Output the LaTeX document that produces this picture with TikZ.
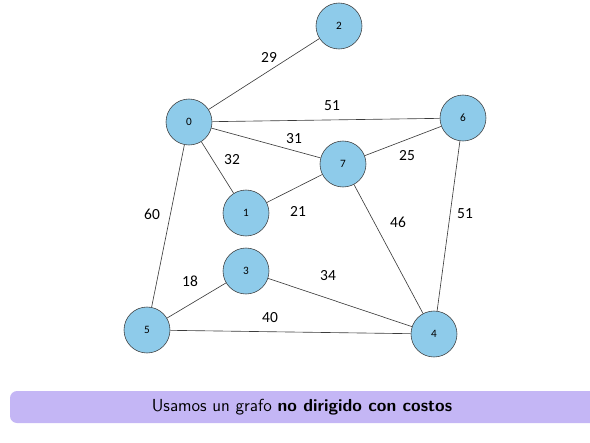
\documentclass[tikz,border=0pt]{standalone}
\usepackage{fontspec}
\newfontfamily\numfont{Carlito}
\usetikzlibrary{positioning}
\definecolor{nodeblue}{RGB}{142,203,234}
\definecolor{barlilac}{RGB}{196,182,245}
\definecolor{edgegray}{RGB}{60,60,60}

\begin{document}
\begin{tikzpicture}[
    x=0.025cm, y=-0.025cm,
    vert/.style={draw=edgegray, circle, fill=nodeblue, minimum size=1.15cm, inner sep=0pt, font=\numfont\fontsize{8}{9}\selectfont},
    wt/.style={font=\numfont\fontsize{11}{12}\selectfont, inner sep=1pt},
    link/.style={draw=edgegray, line width=0.45pt}
]
\useasboundingbox (0,0) rectangle (590,442);
% vertices
\node[vert] (n2) at (339,26) {2};
\node[vert] (n0) at (189,122) {0};
\node[vert] (n6) at (463,118) {6};
\node[vert] (n7) at (343,164) {7};
\node[vert] (n1) at (246,213) {1};
\node[vert] (n3) at (246,271) {3};
\node[vert] (n5) at (147,330) {5};
\node[vert] (n4) at (434,334) {4};
% weighted edges
\path[link] (n0) -- (n2) node[wt] at (269,57) {29};
\path[link] (n0) -- (n6) node[wt] at (332,106) {51};
\path[link] (n0) -- (n7) node[wt] at (294,139) {31};
\path[link] (n0) -- (n1) node[wt] at (232,160) {32};
\path[link] (n7) -- (n6) node[wt] at (407,156) {25};
\path[link] (n1) -- (n7) node[wt] at (298,211) {21};
\path[link] (n7) -- (n4) node[wt] at (398,222) {46};
\path[link] (n6) -- (n4) node[wt] at (465,214) {51};
\path[link] (n0) -- (n5) node[wt] at (152,214) {60};
\path[link] (n5) -- (n3) node[wt] at (190,281) {18};
\path[link] (n3) -- (n4) node[wt] at (328,276) {34};
\path[link] (n5) -- (n4) node[wt] at (270,318) {40};
% caption bar
\begin{scope}
\clip (0,380) rectangle (590,442);
\fill[barlilac, rounded corners=5pt] (10,391) rectangle (610,423);
\end{scope}
\node[font=\sffamily\fontsize{12.4}{14}\selectfont] (note) at (302,407) {Usamos un grafo \textbf{no dirigido con costos}};
\end{tikzpicture}
\end{document}
